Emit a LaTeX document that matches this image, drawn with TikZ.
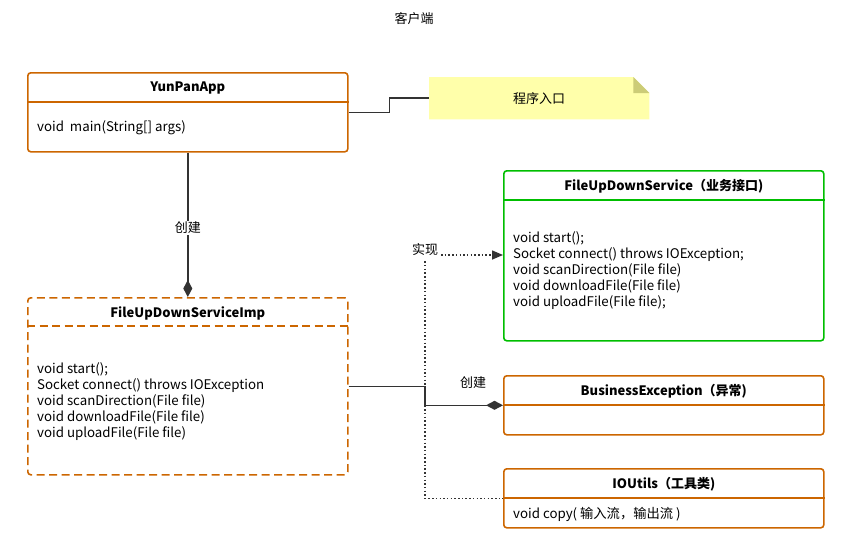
\documentclass[tikz,border=0pt]{standalone}
\usepackage{fontspec}
\setmainfont{Noto Sans CJK SC}
\usetikzlibrary{arrows.meta,positioning,backgrounds}

\definecolor{boxorange}{RGB}{204,102,0}
\definecolor{boxgreen}{RGB}{0,190,0}
\definecolor{linkgray}{RGB}{51,51,51}
\definecolor{notefill}{RGB}{255,255,170}
\definecolor{notefold}{RGB}{204,204,119}

\begin{document}
\begin{tikzpicture}[x=1pt, y=-1pt]
    % Khung ảnh
    \useasboundingbox (0,0) rectangle (858,551);

    % Kiểu dáng
    \tikzset{
        c_box/.style={draw=boxorange, line width=1.6pt, rounded corners=3pt, anchor=north west, minimum width=320pt, inner sep=0pt},
        c_iface/.style={c_box, draw=boxgreen},
        c_dash/.style={c_box, dash pattern=on 8pt off 4.5pt},
        c_title/.style={font=\fontsize{13}{15}\selectfont\bfseries, inner sep=0pt},
        c_body/.style={font=\fontsize{13.3}{16}\selectfont, align=left, anchor=west, inner sep=0pt},
        c_link/.style={draw=linkgray, line width=1.6pt},
        c_dot/.style={draw=linkgray, line width=1.5pt, dash pattern=on 1.5pt off 2.2pt},
        c_txt/.style={font=\fontsize{13}{15}\selectfont, inner sep=1pt},
        c_lbl/.style={c_txt, fill=white},
        c_diam/.style={-{Diamond[length=17pt, width=9pt, fill=linkgray]}},
        c_tri/.style={-{Triangle[length=11pt, width=9pt, fill=linkgray]}}
    }

    % Tiêu đề
    \node[c_txt] (head) at (414,19) {客户端};

    % Các khối lớp
    \node[c_box, minimum height=79pt] (app) at (27,72) {};
    \node[c_dash, minimum height=177pt] (imp) at (27,297) {};
    \node[c_iface, minimum height=170pt] (iface) at (503,170) {};
    \node[c_box, minimum height=59pt] (bex) at (503,375) {};
    \node[c_box, minimum height=59pt] (iou) at (503,468) {};

    % Đường ngăn phần đầu
    \draw[c_box] ([yshift=-30pt]app.north west) -- ([yshift=-30pt]app.north east);
    \draw[c_dash] ([yshift=-29pt]imp.north west) -- ([yshift=-29pt]imp.north east);
    \draw[c_iface] ([yshift=-30pt]iface.north west) -- ([yshift=-30pt]iface.north east);
    \draw[c_box] ([yshift=-30pt]bex.north west) -- ([yshift=-30pt]bex.north east);
    \draw[c_box] ([yshift=-30pt]iou.north west) -- ([yshift=-30pt]iou.north east);

    % Tên lớp
    \node[c_title] (app_t) at ([yshift=-16.5pt]app.north) {YunPanApp};
    \node[c_title] (imp_t) at ([yshift=-16.5pt]imp.north) {FileUpDownServiceImp};
    \node[c_title] (iface_t) at ([yshift=-16.5pt]iface.north) {FileUpDownService（业务接口)};
    \node[c_title] (bex_t) at ([yshift=-16.5pt]bex.north) {BusinessException（异常)};
    \node[c_title] (iou_t) at ([yshift=-16.5pt]iou.north) {IOUtils（工具类)};

    % Phương thức
    \node[c_body] (app_b) at (37,128) {void\ \ main(String[] args)};
    \node[c_body] (imp_b) at (37,401.5) {void start();\\Socket connect() throws IOException\\void scanDirection(File file)\\void downloadFile(File file)\\void uploadFile(File file)};
    \node[c_body] (iface_b) at (513,271) {void start();\\Socket connect() throws IOException;\\void scanDirection(File file)\\void downloadFile(File file)\\void uploadFile(File file);};
    \node[c_body] (iou_b) at (513,514) {void copy( 输入流，输出流 )};

    % Ghi chú
    \node[c_txt, minimum width=220pt, minimum height=42pt, anchor=north west, inner sep=0pt] (note) at (429,77) {程序入口};
    \begin{scope}[on background layer]
        \fill[notefill] (note.north west) -- ([xshift=-16pt]note.north east) -- ([yshift=-16pt]note.north east) -- (note.south east) -- (note.south west) -- cycle;
        \fill[notefold] ([xshift=-16pt]note.north east) -- ([xshift=-16pt, yshift=-16pt]note.north east) -- ([yshift=-16pt]note.north east) -- cycle;
    \end{scope}

    % Liên kết
    \draw[c_link] (app.east) -- ++(41,0) |- (note.west);
    \draw[c_link, c_diam] (app.south) -- node[c_lbl, pos=0.52] (mk1) {创建} (imp.north);

    \coordinate (jx) at (425,0);
    \draw[c_link, c_diam] (imp.east) -- (imp.east -| jx) |- (bex.west);
    \node[c_txt] (mk2) at (473,383) {创建};

    % Thực hiện giao diện (nét chấm)
    \node[c_txt] (impl) at (425,250) {实现};
    \coordinate (impl_s) at (441,255);
    \draw[c_dot, c_tri] (impl_s) -- (impl_s -| iface.west);
    \draw[c_dot] ([yshift=-4pt]impl.south) |- (iou.west);
\end{tikzpicture}
\end{document}
